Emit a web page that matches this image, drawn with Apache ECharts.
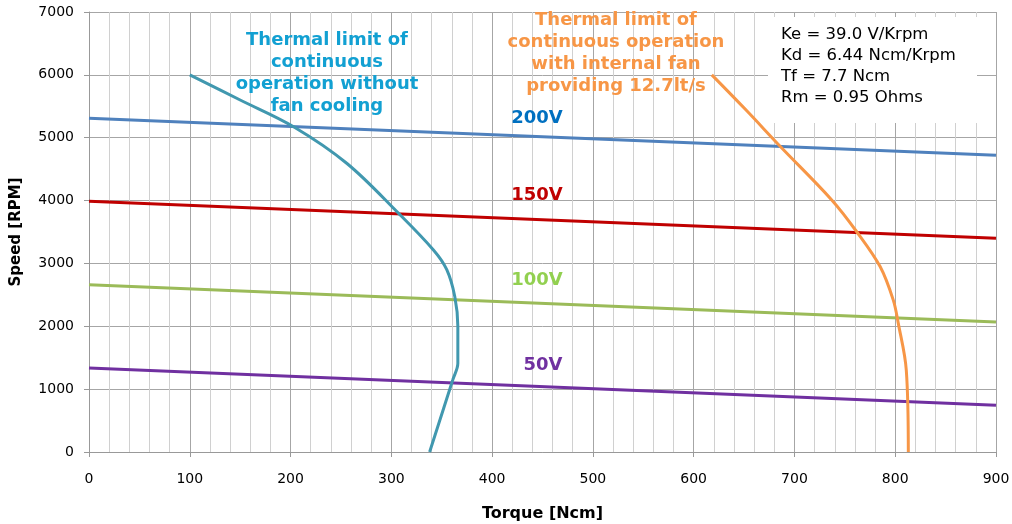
<!DOCTYPE html>
<html>
<head>
<meta charset="utf-8">
<script src="https://cdn.jsdelivr.net/npm/echarts@6/dist/echarts.min.js"></script>
<style>
  html, body { margin: 0; padding: 0; background: #fff; }
  #chart { width: 1012px; height: 524px; }
</style>
</head>
<body>
<div id="chart"></div>
<script>
// speed vs torque lines per supply voltage: [torque, speed] at both ends
const line200V = [[0, 5310], [900, 4720]]
const line150V = [[0, 3990], [900, 3400]]
const line100V = [[0, 2660], [900, 2070]]
const line50V = [[0, 1335], [900, 745]]

// thermal limit without fan cooling
const noFanTorque = [100, 150, 203, 256, 307, 342, 355, 363, 366, 366, 361, 338]
const noFanSpeed = [6000, 5600, 5175, 4590, 3800, 3210, 2900, 2470, 2000, 1410, 1150, 0]

// thermal limit with internal fan
const fanTorque = [618, 652, 686, 737, 762, 785, 798, 803, 811, 813]
const fanSpeed = [6000, 5440, 4860, 4010, 3500, 2950, 2420, 2050, 1300, 0]

const motorParams = ['Ke = 39.0 V/Krpm', 'Kd = 6.44 Ncm/Krpm', 'Tf = 7.7 Ncm', 'Rm = 0.95 Ohms']

const font = 'DejaVu Sans'
const chart = echarts.init(document.getElementById('chart'))

function pairUp(xs, ys) {
  return xs.map((x, i) => [x, ys[i]])
}

function straight(name, data, color) {
  return {
    name: name,
    type: 'line',
    data: data,
    symbol: 'none',
    lineStyle: { color: color, width: 3 },
    silent: true,
    z: 3
  }
}

const option = {
  animation: false,
  grid: { left: 89, right: 16, top: 12, bottom: 72, outerBoundsMode: 'none' },
  xAxis: {
    type: 'value',
    min: 0,
    max: 900,
    interval: 100,
    name: 'Torque [Ncm]',
    nameLocation: 'middle',
    nameGap: 54,
    nameTextStyle: { fontFamily: font, fontWeight: 'bold', fontSize: 16, color: '#000' },
    axisLine: { lineStyle: { color: '#999' } },
    axisTick: { show: true, length: 5, lineStyle: { color: '#999' } },
    axisLabel: { fontFamily: font, fontSize: 14, color: '#000', margin: 20 },
    splitLine: { show: true, lineStyle: { color: '#a6a6a6', width: 1 } },
    minorTick: { show: false, splitNumber: 5 },
    minorSplitLine: { show: true, lineStyle: { color: '#d0d0d0', width: 1 } }
  },
  yAxis: {
    type: 'value',
    min: 0,
    max: 7000,
    interval: 1000,
    name: 'Speed [RPM]',
    nameLocation: 'middle',
    nameGap: 65,
    nameRotate: 90,
    nameTextStyle: { fontFamily: font, fontWeight: 'bold', fontSize: 15, color: '#000' },
    axisLine: { show: true, lineStyle: { color: '#999' } },
    axisTick: { show: true, length: 5, lineStyle: { color: '#999' } },
    axisLabel: { fontFamily: font, fontSize: 14, color: '#000', margin: 15, formatter: v => String(v) },
    splitLine: { show: true, lineStyle: { color: '#a6a6a6', width: 1 } }
  },
  series: [
    straight('200V', line200V, '#4f81bd'),
    straight('150V', line150V, '#c00000'),
    straight('100V', line100V, '#9bbb59'),
    straight('50V', line50V, '#7030a0'),
    {
      name: 'no fan',
      type: 'line',
      data: pairUp(noFanTorque, noFanSpeed),
      symbol: 'none',
      smooth: 0.35,
      lineStyle: { color: '#4198af', width: 3 },
      z: 4
    },
    {
      name: 'fan',
      type: 'line',
      data: pairUp(fanTorque, fanSpeed),
      symbol: 'none',
      smooth: 0.35,
      lineStyle: { color: '#f79646', width: 3 },
      z: 4
    }
  ],
  graphic: [
    // parameter box
    {
      type: 'rect',
      left: 768, top: 17,
      shape: { width: 209, height: 106 },
      style: { fill: '#fff' },
      z: 10
    },
    {
      type: 'text',
      left: 781, top: 24,
      style: {
        text: motorParams.join('\n'),
        font: '16.5px "DejaVu Sans"',
        lineHeight: 21,
        fill: '#000'
      },
      z: 11
    },
    // thermal limit labels
    {
      type: 'text',
      x: 327, y: 29,
      style: {
        text: 'Thermal limit of\ncontinuous\noperation without\nfan cooling',
        font: 'bold 18px "DejaVu Sans"',
        lineHeight: 22,
        align: 'center',
        fill: '#12a0d2'
      },
      z: 11
    },
    {
      type: 'text',
      x: 616, y: 9,
      style: {
        text: 'Thermal limit of\ncontinuous operation\nwith internal fan\nproviding 12.7lt/s',
        font: 'bold 18px "DejaVu Sans"',
        lineHeight: 22,
        align: 'center',
        fill: '#f79646'
      },
      z: 11
    },
    // voltage labels
    { type: 'text', x: 537, y: 109, style: { text: '200V', font: 'bold 18px "DejaVu Sans"', align: 'center', fill: '#0070c0' }, z: 11 },
    { type: 'text', x: 537, y: 186, style: { text: '150V', font: 'bold 18px "DejaVu Sans"', align: 'center', fill: '#c00000' }, z: 11 },
    { type: 'text', x: 537, y: 271, style: { text: '100V', font: 'bold 18px "DejaVu Sans"', align: 'center', fill: '#92d050' }, z: 11 },
    { type: 'text', x: 543, y: 356, style: { text: '50V', font: 'bold 18px "DejaVu Sans"', align: 'center', fill: '#7030a0' }, z: 11 }
  ]
}

chart.setOption(option)
</script>
</body>
</html>
